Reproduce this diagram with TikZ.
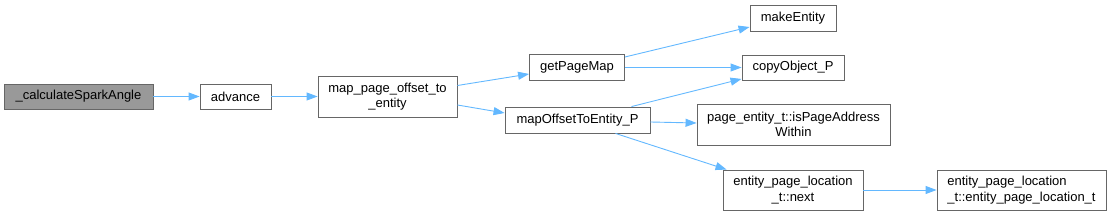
\documentclass[tikz,border=0pt]{standalone}
\usepackage{fontspec}
\setmainfont{Liberation Sans}
\usetikzlibrary{arrows.meta}
\definecolor{edgeblue}{HTML}{63B8FF}
\definecolor{boxborder}{HTML}{666666}
\definecolor{mainfill}{HTML}{999999}
\begin{document}
\begin{tikzpicture}[x=1pt,y=1pt,
  fn/.style={draw=boxborder, line width=0.9pt, fill=white, inner sep=0pt, align=center,
    font=\fontsize{13}{15.5}\selectfont, text=black},
  mainfn/.style={fn, fill=mainfill},
  call/.style={draw=edgeblue, line width=0.9pt, -{Triangle[length=11pt,width=8pt]}}]
\useasboundingbox (0,0) rectangle (1111,216);
\node[mainfn, minimum width=149pt, minimum height=25pt] (calc) at (78.5,119.5) {\_calculateSparkAngle};
\node[fn, minimum width=71pt, minimum height=25pt] (adv) at (235.5,119.5) {advance};
\node[fn, minimum width=139pt, minimum height=41pt] (map) at (387.5,119.5) {map\_page\_offset\_to\\\_entity};
\node[fn, minimum width=95pt, minimum height=26pt] (gpm) at (577,148.5) {getPageMap};
\node[fn, minimum width=145pt, minimum height=26pt] (mot) at (577.5,96) {mapOffsetToEntity\_P};
\node[fn, minimum width=86pt, minimum height=26pt] (mk) at (793,198) {makeEntity};
\node[fn, minimum width=102pt, minimum height=25pt] (cp) at (793,148.5) {copyObject\_P};
\node[fn, minimum width=193pt, minimum height=41pt] (ipa) at (793.5,91.5) {page\_entity\_t::isPageAddress\\Within};
\node[fn, minimum width=140pt, minimum height=40pt] (nxt) at (793,26) {entity\_page\_location\\\_t::next};
\node[fn, minimum width=169pt, minimum height=40pt, align=left] (ctor) at (1021.5,26) {entity\_page\_location\\\_t::entity\_page\_location\_t};

\draw[call] (calc.east) -- (adv.west);
\draw[call] (adv.east) -- (map.west);
\draw[call] ([yshift=11]map.east) -- ([yshift=-6.5]gpm.west);
\draw[call] ([yshift=-8.5]map.east) -- ([yshift=7]mot.west);
\draw[call] ([yshift=10.5]gpm.east) -- ([yshift=-9]mk.west);
\draw[call] (gpm.east) -- (cp.west);
\draw[call] ([xshift=54]mot.north) -- ([yshift=1.5]cp.south west);
\draw[call] ([yshift=-2]mot.east) -- ([yshift=1.5]ipa.west);
\draw[call] ([xshift=38]mot.south) -- ([xshift=4]nxt.north west);
\draw[call] (nxt.east) -- (ctor.west);
\end{tikzpicture}
\end{document}
